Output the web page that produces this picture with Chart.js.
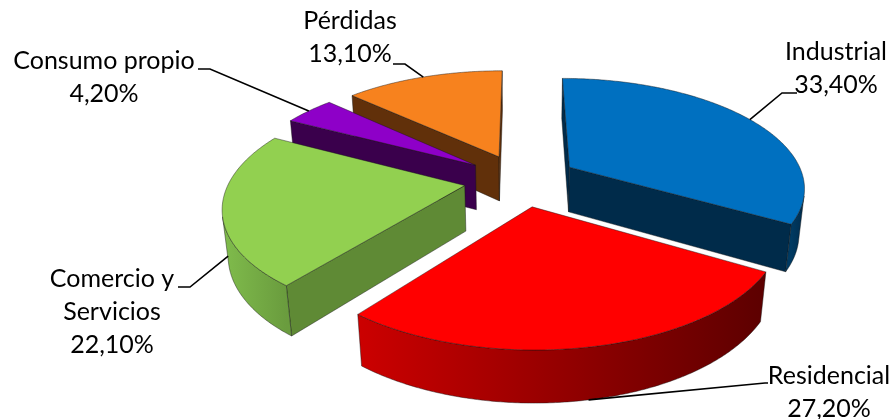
<!DOCTYPE html>
<html><head><meta charset="utf-8">
<script src="https://cdn.jsdelivr.net/npm/chart.js@4"></script>
<style>html,body{margin:0;padding:0;background:#fff;}canvas{display:block;}</style>
</head><body>
<canvas id="c" width="895" height="419"></canvas>
<script>
// ---- data ----
const categories = ['Industrial', 'Residencial', 'Comercio y Servicios', 'Consumo propio', 'Pérdidas'];
const values = [33.4, 27.2, 22.1, 4.2, 13.1];
const valueLabels = ['33,40%', '27,20%', '22,10%', '4,20%', '13,10%'];
const labelLines = [['Industrial'], ['Residencial'], ['Comercio y', 'Servicios'], ['Consumo propio'], ['Pérdidas']];

// ---- styles ----
const topColors = ['#0070C0', '#FF0000', '#92D050', '#8E00C8', '#F7821E'];
const wallColors = [['#003A62', '#002C4C'], ['#CC0000', '#5C0000'], ['#80BC4C', '#6A9C3E'], ['#3A004C', '#3A004C'], ['#61300A', '#61300A']];
const faceColors = ['#002B4A', '#7A0000', '#5F8A35', '#3A004C', '#61300A'];
const labelAnchors = [[836, 52], [829, 376], [112, 279], [104, 61], [350, 21]];
const leaderElbows = [[[782, 93], [797, 93]], [[765, 383], [768, 383]], [[190, 287], [178, 287]], [[210, 69], [198, 69]], [[405, 64], [393, 64]]];
const VIEW = { focal: 1215, tiltSin: 0.46, thickness: 52, explode: 57, radius: 235 };
const tiltCos = Math.sqrt(1 - VIEW.tiltSin * VIEW.tiltSin);
const FONT = '25px Lato, Carlito, "Open Sans", sans-serif';
const LINE_H = 33;

function project(cx, cy, X, Y, Z) {
  const d = VIEW.focal + Y * tiltCos - Z * VIEW.tiltSin;
  const v = Y * VIEW.tiltSin + Z * tiltCos;
  return [cx + VIEW.focal * X / d, cy - VIEW.focal * v / d];
}
function facesViewer(nx, ny, X, Y) { return nx * X + ny * (Y + VIEW.focal * tiltCos) < 0; }
function geom(el) {
  const t1 = el.startAngle + Math.PI / 2, t2 = el.endAngle + Math.PI / 2, tm = (t1 + t2) / 2;
  return { t1, t2, tm, R: el.outerRadius, ex: VIEW.explode * Math.sin(tm), ey: VIEW.explode * Math.cos(tm), cx: el.x, cy: el.y };
}
function rim(g, t, r, Z) { return project(g.cx, g.cy, g.ex + r * Math.sin(t), g.ey + r * Math.cos(t), Z); }
function rimVisible(g, t) {
  return facesViewer(Math.sin(t), Math.cos(t), g.ex + g.R * Math.sin(t), g.ey + g.R * Math.cos(t));
}
const EDGE = 'rgba(20,20,20,0.55)';

function drawSlice(ctx, g, i, topColor) {
  const H = VIEW.thickness;
  ctx.lineJoin = 'round';
  ctx.lineWidth = 0.8;
  ctx.strokeStyle = EDGE;
  // radial cut faces
  const faces = [
    { t: g.t1, nx: -Math.cos(g.t1), ny: Math.sin(g.t1) },
    { t: g.t2, nx: Math.cos(g.t2), ny: -Math.sin(g.t2) }
  ];
  faces.forEach(f => {
    const mx = g.ex + g.R * 0.5 * Math.sin(f.t), my = g.ey + g.R * 0.5 * Math.cos(f.t);
    if (!facesViewer(f.nx, f.ny, mx, my)) return;
    const a = project(g.cx, g.cy, g.ex, g.ey, 0), b = rim(g, f.t, g.R, 0), c = rim(g, f.t, g.R, -H), d = project(g.cx, g.cy, g.ex, g.ey, -H);
    ctx.beginPath(); ctx.moveTo(a[0], a[1]); ctx.lineTo(b[0], b[1]); ctx.lineTo(c[0], c[1]); ctx.lineTo(d[0], d[1]); ctx.closePath();
    ctx.fillStyle = faceColors[i]; ctx.fill(); ctx.stroke();
  });
  // outer curved wall
  const N = Math.max(8, Math.ceil((g.t2 - g.t1) / 0.01));
  const runs = []; let run = [];
  for (let k = 0; k <= N; k++) {
    const t = g.t1 + (g.t2 - g.t1) * k / N;
    if (rimVisible(g, t)) run.push(t); else { if (run.length > 1) runs.push(run); run = []; }
  }
  if (run.length > 1) runs.push(run);
  runs.forEach(r => {
    const top = r.map(t => rim(g, t, g.R, 0)), bot = r.map(t => rim(g, t, g.R, -H)).reverse();
    const xs = top.map(p => p[0]);
    const x0 = Math.min(...xs), x1 = Math.max(...xs);
    const grad = ctx.createLinearGradient(x0, 0, Math.max(x1, x0 + 1), 0);
    grad.addColorStop(0, wallColors[i][0]); grad.addColorStop(1, wallColors[i][1]);
    ctx.beginPath();
    top.concat(bot).forEach((p, k) => k ? ctx.lineTo(p[0], p[1]) : ctx.moveTo(p[0], p[1]));
    ctx.closePath();
    ctx.fillStyle = grad; ctx.fill(); ctx.stroke();
  });
  // top face
  const M = Math.max(8, Math.ceil((g.t2 - g.t1) / 0.01));
  const a = project(g.cx, g.cy, g.ex, g.ey, 0);
  ctx.beginPath(); ctx.moveTo(a[0], a[1]);
  for (let k = 0; k <= M; k++) { const p = rim(g, g.t1 + (g.t2 - g.t1) * k / M, g.R, 0); ctx.lineTo(p[0], p[1]); }
  ctx.closePath();
  ctx.fillStyle = topColor; ctx.fill(); ctx.stroke();
}

const pie3d = {
  id: 'pie3d',
  beforeDatasetsDraw(chart) {
    const ctx = chart.ctx;
    const arcs = chart.getDatasetMeta(0).data;
    const items = arcs.map((el, i) => ({ el, i, g: geom(el) }));
    items.sort((p, q) => (q.g.ey + 0.5 * q.g.R * Math.cos(q.g.tm)) - (p.g.ey + 0.5 * p.g.R * Math.cos(p.g.tm)));
    ctx.save();
    items.forEach(it => drawSlice(ctx, it.g, it.i, it.el.options.backgroundColor));
    ctx.restore();
    return false;
  },
  afterDraw(chart) {
    const ctx = chart.ctx;
    const arcs = chart.getDatasetMeta(0).data;
    ctx.save();
    ctx.strokeStyle = '#000'; ctx.lineWidth = 1.6;
    arcs.forEach((el, i) => {
      const g = geom(el);
      const p = Math.cos(g.tm) < 0 ? rim(g, g.tm, g.R, -VIEW.thickness) : rim(g, g.tm, g.R, 0);
      const e = leaderElbows[i];
      ctx.beginPath(); ctx.moveTo(p[0], p[1]); ctx.lineTo(e[0][0], e[0][1]); ctx.lineTo(e[1][0], e[1][1]); ctx.stroke();
      const lines = labelLines[i].concat([valueLabels[i]]);
      ctx.fillStyle = '#000'; ctx.font = FONT; ctx.textAlign = 'center'; ctx.textBaseline = 'middle';
      lines.forEach((s, k) => ctx.fillText(s, labelAnchors[i][0], labelAnchors[i][1] + k * LINE_H));
    });
    ctx.restore();
  }
};

new Chart(document.getElementById('c'), {
  type: 'pie',
  data: { labels: categories, datasets: [{ data: values, backgroundColor: topColors, borderWidth: 0 }] },
  options: {
    responsive: false, animation: false, devicePixelRatio: 1,
    radius: VIEW.radius, rotation: 0,
    layout: { padding: { left: 147, bottom: 59 } },
    plugins: { legend: { display: false }, tooltip: { enabled: false } }
  },
  plugins: [pie3d]
});
</script>
</body></html>
